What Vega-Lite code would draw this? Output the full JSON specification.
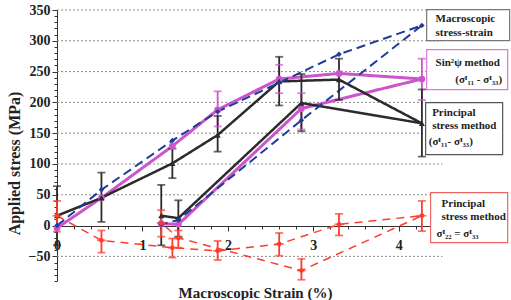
{
  "$schema": "https://vega.github.io/schema/vega-lite/v6.json",
  "width": 376,
  "height": 271,
  "autosize": {"type": "none"},
  "padding": {"left": 57, "top": 10, "right": 78, "bottom": 19},
  "background": "white",
  "config": {"view": {"stroke": null}, "font": "Liberation Serif"},
  "resolve": {"axis": {"x": "independent", "y": "independent"}},
  "datasets": {
    "grid": [{"g": -50}, {"g": 50}, {"g": 100}, {"g": 150}, {"g": 200}, {"g": 250}, {"g": 300}, {"g": 350}],
    "series": [
      {"s": "sin", "ord": 1, "x": 0, "y": -4},
      {"s": "sin", "ord": 2, "x": 0.52, "y": 45},
      {"s": "sin", "ord": 3, "x": 1.35, "y": 129},
      {"s": "sin", "ord": 4, "x": 1.88, "y": 188, "lo": 161, "hi": 218},
      {"s": "sin", "ord": 5, "x": 2.6, "y": 238, "lo": 215, "hi": 261},
      {"s": "sin", "ord": 6, "x": 3.3, "y": 247},
      {"s": "sin", "ord": 7, "x": 4.27, "y": 238, "lo": 204, "hi": 271},
      {"s": "sin", "ord": 8, "x": 2.86, "y": 190, "lo": 156, "hi": 215},
      {"s": "sin", "ord": 9, "x": 1.42, "y": 2},
      {"s": "sin", "ord": 10, "x": 1.22, "y": 3},
      {"s": "p1", "ord": 1, "x": 0, "y": 16, "lo": -32, "hi": 64},
      {"s": "p1", "ord": 2, "x": 0.52, "y": 45, "lo": 6, "hi": 86},
      {"s": "p1", "ord": 3, "x": 1.35, "y": 101, "lo": 77, "hi": 125},
      {"s": "p1", "ord": 4, "x": 1.88, "y": 147, "lo": 120, "hi": 178},
      {"s": "p1", "ord": 5, "x": 2.6, "y": 234, "lo": 195, "hi": 274},
      {"s": "p1", "ord": 6, "x": 3.3, "y": 237, "lo": 204, "hi": 271},
      {"s": "p1", "ord": 7, "x": 4.27, "y": 166, "lo": 112, "hi": 221},
      {"s": "p1", "ord": 8, "x": 2.86, "y": 199, "lo": 153, "hi": 246},
      {"s": "p1", "ord": 9, "x": 1.42, "y": 12, "lo": -18, "hi": 41},
      {"s": "p1", "ord": 10, "x": 1.22, "y": 16, "lo": -32, "hi": 66},
      {"s": "macro", "ord": 1, "x": 0, "y": 0},
      {"s": "macro", "ord": 2, "x": 0.52, "y": 58},
      {"s": "macro", "ord": 3, "x": 1.35, "y": 138},
      {"s": "macro", "ord": 4, "x": 1.88, "y": 185},
      {"s": "macro", "ord": 5, "x": 2.6, "y": 232},
      {"s": "macro", "ord": 6, "x": 3.3, "y": 278},
      {"s": "macro", "ord": 7, "x": 4.27, "y": 325},
      {"s": "macro", "ord": 8, "x": 2.86, "y": 171},
      {"s": "macro", "ord": 9, "x": 1.42, "y": 9},
      {"s": "macro", "ord": 10, "x": 1.22, "y": 2},
      {"s": "p2", "ord": 1, "x": 0, "y": 16, "lo": -10, "hi": 40},
      {"s": "p2", "ord": 2, "x": 0.52, "y": -24, "lo": -44, "hi": -8},
      {"s": "p2", "ord": 3, "x": 1.35, "y": -36, "lo": -52, "hi": -21},
      {"s": "p2", "ord": 4, "x": 1.88, "y": -41, "lo": -56, "hi": -25},
      {"s": "p2", "ord": 5, "x": 2.6, "y": -30, "lo": -49, "hi": -12},
      {"s": "p2", "ord": 6, "x": 3.3, "y": 2, "lo": -16, "hi": 19},
      {"s": "p2", "ord": 7, "x": 4.27, "y": 16, "lo": -9, "hi": 40},
      {"s": "p2", "ord": 8, "x": 2.86, "y": -73, "lo": -88, "hi": -54},
      {"s": "p2", "ord": 9, "x": 1.42, "y": -20, "lo": -36, "hi": -8},
      {"s": "p2", "ord": 10, "x": 1.22, "y": 4, "lo": -18, "hi": 25}
    ],
    "boxes": [
      {"b": "macro", "x": 4.326, "x2": 5.297, "y": 350.6, "y2": 300.3},
      {"b": "sin", "x": 4.326, "x2": 5.274, "y": 285.7, "y2": 220.8},
      {"b": "p1", "x": 4.314, "x2": 5.215, "y": 199.7, "y2": 115.3},
      {"b": "p2", "x": 4.372, "x2": 5.274, "y": 53.6, "y2": -27.6}
    ],
    "notes": [
      {"t": "Macroscopic", "x": 4.43, "y": 336},
      {"t": "stress-strain", "x": 4.43, "y": 313},
      {"t": "Sin²ψ method", "x": 4.43, "y": 264.6},
      {"t": "(σᴵ₁₁ - σᴵ₃₃)", "x": 4.66, "y": 237},
      {"t": "Principal", "x": 4.39, "y": 183.4},
      {"t": "stress method", "x": 4.39, "y": 162.3},
      {"t": "(σᴵ₁₁- σᴵ₃₃)", "x": 4.35, "y": 136.4},
      {"t": "Principal", "x": 4.5, "y": 35.7},
      {"t": "stress method", "x": 4.5, "y": 14.6},
      {"t": "σᴵ₂₂ = σᴵ₃₃", "x": 4.44, "y": -13}
    ]
  },
  "layer": [
    {
      "data": {"name": "grid"},
      "mark": {"type": "rule", "color": "#8a8a8a", "strokeDash": [2, 2], "strokeWidth": 1},
      "encoding": {
        "y": {"field": "g", "type": "quantitative", "scale": {"domain": [-90, 350], "nice": false, "zero": false}, "axis": {
          "orient": "left",
          "values": [-90,-80,-70,-60,-50,-40,-30,-20,-10,0,10,20,30,40,50,60,70,80,90,100,110,120,130,140,150,160,170,180,190,200,210,220,230,240,250,260,270,280,290,300,310,320,330,340,350],
          "labels": false, "title": null, "grid": false, "domain": true,
          "tickSize": 3, "tickColor": "#333", "domainColor": "#333"
        }},
        "x": {"datum": 0, "type": "quantitative", "scale": {"domain": [0, 4.4], "nice": false, "zero": false}, "axis": {
          "orient": "bottom",
          "values": [0,0.2,0.4,0.6,0.8,1,1.2,1.4,1.6,1.8,2,2.2,2.4,2.6,2.8,3,3.2,3.4,3.6,3.8,4,4.2,4.4],
          "labels": false, "title": null, "grid": false, "domain": true,
          "offset": -55, "tickSize": 3, "tickColor": "#333", "domainColor": "#333"
        }},
        "x2": {"datum": 4.51}
      }
    },
    {
      "data": {"name": "series"},
      "mark": {"type": "line"},
      "encoding": {
        "x": {"field": "x", "type": "quantitative", "axis": {
          "orient": "bottom",
          "values": [0, 1, 2, 3, 4],
          "format": "d",
          "labelOverlap": false, "labelFlush": false,
          "offset": -55, "domain": false,
          "tickSize": 5, "tickColor": "#333", "grid": false,
          "labelFont": "Liberation Serif", "labelFontWeight": "bold", "labelFontSize": 14, "labelColor": "#222", "labelPadding": 7,
          "title": "Macroscopic Strain (%)", "titleFont": "Liberation Serif", "titleFontWeight": "bold", "titleFontSize": 15, "titleColor": "#222",
          "titleX": 198, "titleY": 71, "titleAlign": "center", "titleBaseline": "alphabetic"
        }},
        "y": {"field": "y", "type": "quantitative", "axis": {
          "orient": "left",
          "values": [-50, 0, 50, 100, 150, 200, 250, 300, 350],
          "format": "d",
          "labelOverlap": false, "labelFlush": false, "domain": false,
          "tickSize": 5, "tickColor": "#333", "grid": false,
          "labelFont": "Liberation Serif", "labelFontWeight": "bold", "labelFontSize": 14, "labelColor": "#222", "labelPadding": 2,
          "title": "Applied stress (MPa)", "titleFont": "Liberation Serif", "titleFontWeight": "bold", "titleFontSize": 16, "titleColor": "#222",
          "titleX": -43, "titleY": 153, "titleAngle": -90, "titleAlign": "center", "titleBaseline": "middle"
        }},
        "order": {"field": "ord"},
        "color": {"field": "s", "type": "nominal", "legend": null, "scale": {"domain": ["sin", "p1", "macro", "p2"], "range": ["#cc55cc", "#2b2b2b", "#1f3c96", "#ff3b2b"]}},
        "strokeDash": {"field": "s", "type": "nominal", "legend": null, "scale": {"domain": ["sin", "p1", "macro", "p2"], "range": [[1, 0], [1, 0], [9, 5], [8, 6]]}},
        "strokeWidth": {"field": "s", "type": "nominal", "legend": null, "scale": {"domain": ["sin", "p1", "macro", "p2"], "range": [3, 1.5, 1.8, 1.8]}}
      }
    },
    {
      "data": {"name": "series"},
      "transform": [{"filter": "isValid(datum.lo)"}],
      "mark": {"type": "rule", "strokeWidth": 1.8},
      "encoding": {
        "x": {"field": "x", "type": "quantitative", "axis": null},
        "y": {"field": "lo", "type": "quantitative", "axis": null},
        "y2": {"field": "hi"},
        "color": {"field": "s", "type": "nominal", "legend": null}
      }
    },
    {
      "data": {"name": "series"},
      "transform": [{"filter": "isValid(datum.lo)"}],
      "mark": {"type": "tick", "orient": "horizontal", "size": 8, "thickness": 1.8},
      "encoding": {
        "x": {"field": "x", "type": "quantitative", "axis": null},
        "y": {"field": "lo", "type": "quantitative", "axis": null},
        "color": {"field": "s", "type": "nominal", "legend": null}
      }
    },
    {
      "data": {"name": "series"},
      "transform": [{"filter": "isValid(datum.lo)"}],
      "mark": {"type": "tick", "orient": "horizontal", "size": 8, "thickness": 1.8},
      "encoding": {
        "x": {"field": "x", "type": "quantitative", "axis": null},
        "y": {"field": "hi", "type": "quantitative", "axis": null},
        "color": {"field": "s", "type": "nominal", "legend": null}
      }
    },
    {
      "data": {"name": "series"},
      "mark": {"type": "point", "filled": true, "opacity": 1},
      "encoding": {
        "x": {"field": "x", "type": "quantitative", "axis": null},
        "y": {"field": "y", "type": "quantitative", "axis": null},
        "color": {"field": "s", "type": "nominal", "legend": null},
        "shape": {"field": "s", "type": "nominal", "legend": null, "scale": {"domain": ["sin", "p1", "macro", "p2"], "range": ["circle", "triangle-up", "diamond", "circle"]}},
        "size": {"field": "s", "type": "nominal", "legend": null, "scale": {"domain": ["sin", "p1", "macro", "p2"], "range": [45, 22, 30, 18]}}
      }
    },
    {
      "data": {"name": "series"},
      "transform": [{"filter": "datum.s === 'p2'"}],
      "mark": {"type": "tick", "orient": "horizontal", "size": 9, "thickness": 1.8, "color": "#ff3b2b"},
      "encoding": {
        "x": {"field": "x", "type": "quantitative", "axis": null},
        "y": {"field": "y", "type": "quantitative", "axis": null}
      }
    },
    {
      "data": {"name": "boxes"},
      "mark": {"type": "rect", "fill": "white", "strokeWidth": 1.2},
      "encoding": {
        "x": {"field": "x", "type": "quantitative", "axis": null},
        "x2": {"field": "x2"},
        "y": {"field": "y", "type": "quantitative", "axis": null},
        "y2": {"field": "y2"},
        "stroke": {"field": "b", "type": "nominal", "legend": null, "scale": {"domain": ["macro", "sin", "p1", "p2"], "range": ["#777777", "#dd77dd", "#555555", "#ee6666"]}},
        "strokeDash": {"field": "b", "type": "nominal", "legend": null, "scale": {"domain": ["macro", "sin", "p1", "p2"], "range": [[2, 2], [1, 0], [1, 0], [1, 0]]}}
      }
    },
    {
      "data": {"name": "notes"},
      "mark": {"type": "text", "align": "left", "baseline": "middle", "font": "Liberation Serif", "fontWeight": "bold", "fontSize": 11, "color": "#222"},
      "encoding": {
        "x": {"field": "x", "type": "quantitative", "axis": null},
        "y": {"field": "y", "type": "quantitative", "axis": null},
        "text": {"field": "t"}
      }
    }
  ]
}
